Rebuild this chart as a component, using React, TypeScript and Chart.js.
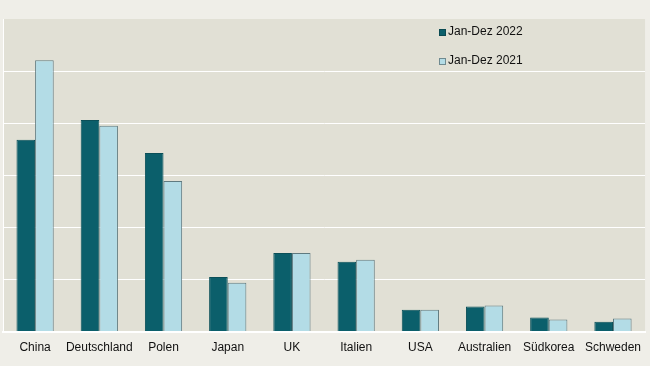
import React, { useEffect, useRef } from "react";
import { Chart, registerables } from "chart.js";

Chart.register(...registerables);

const categories = ["China", "Deutschland", "Polen", "Japan", "UK", "Italien", "USA", "Australien", "Südkorea", "Schweden"];
const series2022 = [3.68, 4.06, 3.43, 1.05, 1.51, 1.34, 0.42, 0.48, 0.27, 0.19];
const series2021 = [5.21, 3.95, 2.89, 0.94, 1.51, 1.38, 0.42, 0.5, 0.23, 0.25];
const seriesLabels = ["Jan-Dez 2022", "Jan-Dez 2021"];

const DARK = "#0b5f6b";
const LIGHT = "#b3dce6";
const OUTER_BG = "#efeee8";
const PLOT_BG = "#e1e0d5";

const bgPlugin = {
  id: "bgPlugin",
  beforeDraw(chart: any) {
    const { ctx, chartArea } = chart;
    ctx.save();
    ctx.fillStyle = OUTER_BG;
    ctx.fillRect(0, 0, chart.width, chart.height);
    ctx.fillStyle = PLOT_BG;
    ctx.fillRect(chartArea.left, chartArea.top, chartArea.right - chartArea.left, chartArea.bottom - chartArea.top);
    ctx.restore();
  },
};

const legendPlugin = {
  id: "customLegend",
  afterDraw(chart: any) {
    const { ctx } = chart;
    ctx.save();
    ctx.font = "12px 'Liberation Sans', Arial, sans-serif";
    ctx.textBaseline = "middle";
    const items = [
      { label: seriesLabels[0], fill: DARK, stroke: "#0a4a52", y: 32 },
      { label: seriesLabels[1], fill: LIGHT, stroke: "#6f8a90", y: 61 },
    ];
    items.forEach((it) => {
      ctx.fillStyle = it.fill;
      ctx.fillRect(439, it.y - 3, 7, 7);
      ctx.strokeStyle = it.stroke;
      ctx.lineWidth = 1;
      ctx.strokeRect(439.5, it.y - 2.5, 6, 6);
      ctx.fillStyle = "#111";
      ctx.fillText(it.label, 448, it.y);
    });
    ctx.restore();
  },
};

export default function App() {
  const ref = useRef<HTMLCanvasElement>(null);
  useEffect(() => {
    document.body.style.margin = "0";
    const chart = new Chart(ref.current!, {
      type: "bar",
      data: {
        labels: categories,
        datasets: [
          {
            label: seriesLabels[0],
            data: series2022,
            backgroundColor: DARK,
            borderColor: "#0a4f58",
            borderWidth: 1,
            categoryPercentage: 0.58,
            barPercentage: 1,
          },
          {
            label: seriesLabels[1],
            data: series2021,
            backgroundColor: LIGHT,
            borderColor: "#5f7a80",
            borderWidth: 1,
            categoryPercentage: 0.58,
            barPercentage: 1,
          },
        ],
      },
      options: {
        animation: false,
        responsive: false,
        maintainAspectRatio: false,
        layout: { padding: { left: 3, right: 0, top: 19, bottom: 2 } },
        plugins: { legend: { display: false }, tooltip: { enabled: false } },
        scales: {
          x: {
            grid: { display: false, drawTicks: false },
            border: { display: true, color: "#ffffff", width: 2 },
            ticks: {
              color: "#111",
              padding: 9,
              font: { family: "'Liberation Sans', Arial, sans-serif", size: 12 },
              maxRotation: 0,
              autoSkip: false,
            },
          },
          y: {
            min: 0,
            max: 6,
            ticks: { display: false, stepSize: 1 },
            grid: {
              color: (c: any) => (c.tick && c.tick.value === 6 ? "rgba(0,0,0,0)" : "#ffffff"),
              lineWidth: 1,
              drawTicks: false,
            },
            border: { display: true, color: "#ffffff", width: 1 },
          },
        },
      },
      plugins: [bgPlugin, legendPlugin],
    });
    return () => chart.destroy();
  }, []);
  return <canvas ref={ref} width={650} height={366} style={{ display: "block" }} />;
}
